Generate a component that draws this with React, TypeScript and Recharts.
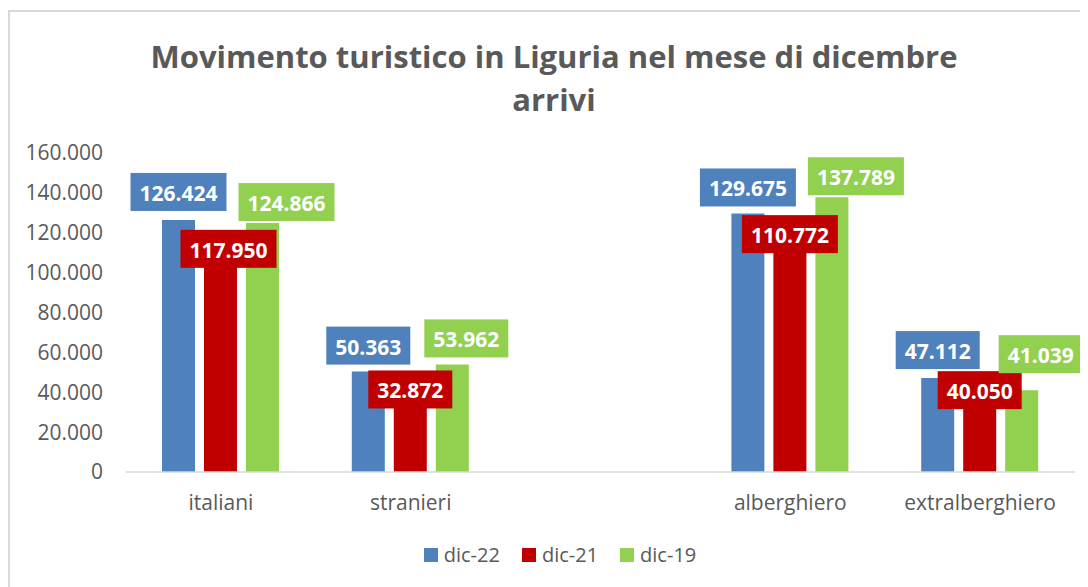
import React from 'react';
import { BarChart, Bar, XAxis, YAxis, LabelList } from 'recharts';

const categories = ['italiani', 'stranieri', '', 'alberghiero', 'extralberghiero'];
const dic22 = [126424, 50363, null, 129675, 47112];
const dic21 = [117950, 32872, null, 110772, 40050];
const dic19 = [124866, 53962, null, 137789, 41039];
const yTicks = [0, 20000, 40000, 60000, 80000, 100000, 120000, 140000, 160000];

const series = [
  { key: 'dic22', name: 'dic-22', color: '#4f81bd', values: dic22 },
  { key: 'dic21', name: 'dic-21', color: '#c00000', values: dic21 },
  { key: 'dic19', name: 'dic-19', color: '#92d050', values: dic19 },
];

// label boxes were moved by hand in the original, so nudge them per point
const labelNudge: Record<string, [number, number][]> = {
  dic22: [[0, -28], [0, -26], [0, 0], [0, -26], [0, -28]],
  dic21: [[8, 12], [0, -17], [0, 0], [0, -17], [0, -2]],
  dic19: [[24, -21], [14, -26], [0, 0], [24, -21], [19, -36]],
};

const data = categories.map((name, i) => ({
  name,
  dic22: dic22[i],
  dic21: dic21[i],
  dic19: dic19[i],
}));

const FONT = '"Open Sans", sans-serif';
const GREY = '#595959';

const fmt = (v: number) => String(v).replace(/\B(?=(\d{3})+(?!\d))/g, '.');

const makeLabel = (key: string, color: string, values: (number | null)[]) => (props: any) => {
  const { x, y, width, value } = props;
  if (value == null) return null;
  const text = fmt(value);
  // index from LabelList skips the empty category, so look it up by value
  const i = values.indexOf(Number(value));
  const [dx, dy] = labelNudge[key][i] || [0, -26];
  const w = text.length * 12 + 12;
  const h = 38;
  const cx = x + width / 2 + dx;
  const cy = y + dy;
  return (
    <g>
      <rect x={cx - w / 2} y={cy - h / 2} width={w} height={h} fill={color} />
      <text
        x={cx}
        y={cy + 1}
        textAnchor="middle"
        dominantBaseline="central"
        fill="#fff"
        fontWeight="bold"
        fontSize={21}
        fontFamily={FONT}
      >
        {text}
      </text>
    </g>
  );
};

export default function App() {
  return (
    <div
      style={{
        position: 'relative',
        width: 1080,
        height: 577,
        marginTop: 2,
        borderTop: '2px solid #d9d9d9',
        borderLeft: '2px solid #d9d9d9',
        boxSizing: 'border-box',
        fontFamily: FONT,
        color: GREY,
      }}
    >
      <div
        style={{
          position: 'absolute',
          left: 4,
          width: 1080,
          top: 23,
          textAlign: 'center',
          fontWeight: 'bold',
          fontSize: 31,
          lineHeight: '43px',
          color: GREY,
        }}
      >
        Movimento turistico in Liguria nel mese di dicembre
        <br />
        arrivi
      </div>
      <BarChart
        width={1078}
        height={575}
        data={data}
        margin={{ top: 141, right: 13, left: 16, bottom: 85 }}
        barSize={33}
        barGap={9}
        style={{ position: 'absolute', left: 0, top: 0 }}
      >
        <XAxis
          dataKey="name"
          axisLine={{ stroke: '#d9d9d9', strokeWidth: 1.5 }}
          tickLine={false}
          tickMargin={17}
          height={30}
          interval={0}
          tick={{ fill: GREY, fontSize: 21, fontFamily: FONT }}
        />
        <YAxis
          domain={[0, 160000]}
          ticks={yTicks}
          interval={0}
          width={100}
          axisLine={false}
          tickLine={false}
          tickMargin={17}
          tickFormatter={fmt}
          tick={{ fill: GREY, fontSize: 21, fontFamily: FONT }}
        />
        {series.map((s) => (
          <Bar key={s.key} dataKey={s.key} name={s.name} fill={s.color} isAnimationActive={false}>
            <LabelList dataKey={s.key} content={makeLabel(s.key, s.color, s.values)} />
          </Bar>
        ))}
      </BarChart>
      <div
        style={{
          position: 'absolute',
          top: 529,
          left: 0,
          width: 1100,
          display: 'flex',
          justifyContent: 'center',
          gap: 22,
          fontSize: 20,
          color: GREY,
        }}
      >
        {series.map((s) => (
          <div key={s.key} style={{ display: 'flex', alignItems: 'center', gap: 6 }}>
            <span style={{ width: 14, height: 14, background: s.color, display: 'inline-block' }} />
            <span>{s.name}</span>
          </div>
        ))}
      </div>
    </div>
  );
}
